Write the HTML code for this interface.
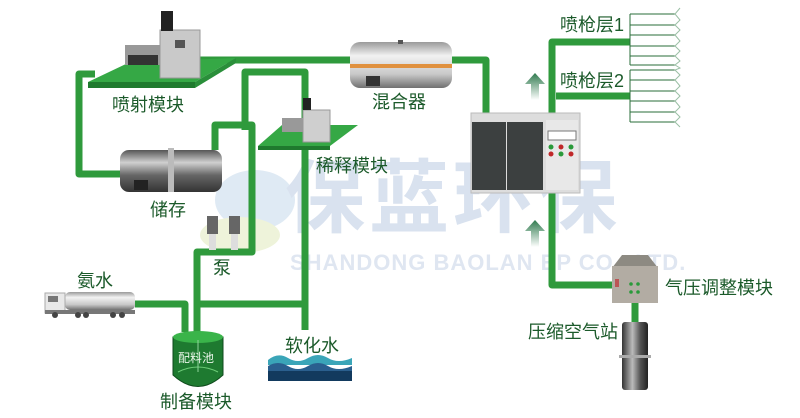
<!DOCTYPE html>
<html><head><meta charset="utf-8"><style>
html,body{margin:0;padding:0;background:#fff;}
svg{display:block;}
text{font-family:"Liberation Sans","Noto Sans CJK SC",sans-serif;}
</style></head><body>
<svg width="800" height="418" viewBox="0 0 800 418" xmlns="http://www.w3.org/2000/svg">
<defs>
<linearGradient id="silver" x1="0" y1="0" x2="0" y2="1">
<stop offset="0" stop-color="#9a9a9a"/><stop offset="0.3" stop-color="#f2f2f2"/><stop offset="0.7" stop-color="#c8c8c8"/><stop offset="1" stop-color="#707070"/></linearGradient>
<linearGradient id="dark" x1="0" y1="0" x2="0" y2="1">
<stop offset="0" stop-color="#555"/><stop offset="0.3" stop-color="#d0d0d0"/><stop offset="0.6" stop-color="#666"/><stop offset="1" stop-color="#333"/></linearGradient>
<linearGradient id="darkv" x1="0" y1="0" x2="1" y2="0">
<stop offset="0" stop-color="#333"/><stop offset="0.4" stop-color="#bbb"/><stop offset="0.7" stop-color="#555"/><stop offset="1" stop-color="#222"/></linearGradient>
<linearGradient id="arr" x1="0" y1="0" x2="0" y2="1">
<stop offset="0" stop-color="#2f7a4e"/><stop offset="1" stop-color="#ffffff"/></linearGradient>
</defs>
<!-- watermark -->
<ellipse cx="255" cy="200" rx="40" ry="30" fill="#dfeaf4"/>
<ellipse cx="240" cy="235" rx="40" ry="18" fill="#eef3da"/>
<text x="285" y="226" font-size="80" font-weight="bold" fill="#d9e2ef" letter-spacing="4">保蓝环保</text>
<text x="290" y="270" font-size="22" font-weight="bold" fill="#dfe6f1" letter-spacing="1">SHANDONG BAOLAN EP CO., LTD.</text>
<!-- pipes -->
<g fill="none" stroke="#2f9a3c" stroke-width="7" stroke-linejoin="round">
<path d="M195,60 H352"/>
<path d="M450,60 H486 V115"/>
<path d="M95,74 H79 V174 H122"/>
<path d="M245,130 V72 H305 V128"/>
<path d="M215,150 V125 H252 V252 H197 V332"/>
<path d="M305,140 V330"/>
<path d="M197,304 H305"/>
<path d="M135,304 H185 V332"/>
<path d="M552,190 V285 H614"/>
<path d="M552,115 V42 H630"/>
<path d="M556,96 H630"/>
<path d="M635,302 V322"/>
</g>
<!-- spray guns -->
<g stroke="#2a6e3a" stroke-width="1" fill="none">
<path d="M630,14 V65 M630,70 V122"/>
<path d="M630,14 H675 M630,25 H675 M630,35 H675 M630,46 H675 M630,56 H675 M630,65 H675 M630,70 H675 M630,80 H675 M630,91 H675 M630,101 H675 M630,112 H675 M630,122 H675"/>
<path d="M680,8 L675,14 L680,20 L675,25 L680,30 L675,35 L680,41 L675,46 L680,51 L675,56 L680,61 L675,65 L680,68 L675,70 L680,75 L675,80 L680,86 L675,91 L680,96 L675,101 L680,107 L675,112 L680,117 L675,122 L680,127" stroke="#9bbfa5"/>
</g>
<!-- injection platform -->
<polygon points="88,82 130,62 236,58 195,82" fill="#35a845"/>
<polygon points="88,82 195,82 195,88 88,88" fill="#1f7a2e"/>
<polygon points="195,82 236,58 236,63 195,88" fill="#2a8f3a"/>
<rect x="125" y="45" width="35" height="20" fill="#999"/>
<rect x="128" y="55" width="30" height="10" fill="#333"/>
<rect x="160" y="30" width="40" height="48" fill="#c9c9c9" stroke="#999"/>
<rect x="175" y="40" width="10" height="8" fill="#555"/>
<rect x="161" y="11" width="12" height="20" fill="#222"/>
<!-- mixer -->
<rect x="350" y="42" width="102" height="46" rx="10" fill="url(#silver)"/>
<rect x="350" y="64" width="102" height="4" fill="#e0913f"/>
<rect x="366" y="76" width="14" height="10" fill="#333"/>
<rect x="398" y="40" width="5" height="4" fill="#555"/>
<!-- dilution platform -->
<polygon points="258,146 282,125 358,125 330,146" fill="#35a845"/>
<polygon points="258,146 330,146 330,150 258,150" fill="#1f7a2e"/>
<rect x="282" y="118" width="22" height="14" fill="#999"/>
<rect x="303" y="110" width="27" height="32" fill="#cfcfcf" stroke="#999"/>
<rect x="303" y="98" width="8" height="12" fill="#222"/>
<!-- storage -->
<rect x="120" y="150" width="102" height="42" rx="9" fill="url(#dark)"/>
<rect x="168" y="148" width="6" height="44" fill="#bbb"/>
<rect x="134" y="180" width="14" height="10" fill="#222"/>
<!-- pumps -->
<rect x="207" y="216" width="11" height="18" fill="#666"/><rect x="209" y="234" width="7" height="16" fill="#ddd"/>
<rect x="229" y="216" width="11" height="18" fill="#666"/><rect x="231" y="234" width="7" height="16" fill="#ddd"/>
<!-- big cabinet -->
<rect x="471" y="113" width="109" height="80" fill="#ddd" stroke="#bbb"/>
<rect x="472" y="122" width="34" height="68" fill="#3c4040"/>
<rect x="507" y="122" width="36" height="68" fill="#3c4040"/>
<rect x="546" y="120" width="32" height="70" fill="#e8e8e8"/>
<rect x="548" y="131" width="28" height="9" fill="#fff" stroke="#777"/>
<g fill="#2a9a3a"><circle cx="551" cy="147" r="2.5"/><circle cx="571" cy="147" r="2.5"/><circle cx="561" cy="154" r="2.5"/></g>
<g fill="#c0282a"><circle cx="561" cy="147" r="2.5"/><circle cx="551" cy="154" r="2.5"/><circle cx="571" cy="154" r="2.5"/></g>
<!-- arrows -->
<polygon points="535,73 545,84 539,84 539,100 531,100 531,84 525,84" fill="url(#arr)"/>
<polygon points="535,220 545,231 539,231 539,247 531,247 531,231 525,231" fill="url(#arr)"/>
<!-- air box -->
<polygon points="612,268 622,255 648,255 658,268" fill="#8d8a82"/>
<rect x="612" y="266" width="46" height="37" fill="#b2aca3"/>
<g fill="#2a9a3a"><circle cx="631" cy="284" r="1.8"/><circle cx="638" cy="284" r="1.8"/><circle cx="631" cy="292" r="1.8"/><circle cx="638" cy="292" r="1.8"/></g>
<rect x="615" y="279" width="4" height="8" fill="#b55"/>
<!-- compressor -->
<rect x="622" y="322" width="26" height="68" rx="3" fill="url(#darkv)"/>
<rect x="619" y="355" width="32" height="3" fill="#aaa"/>
<!-- truck -->
<rect x="65" y="292" width="70" height="18" rx="5" fill="url(#silver)"/>
<rect x="45" y="293" width="20" height="20" fill="#e8e8e8" stroke="#aaa"/>
<rect x="48" y="296" width="10" height="6" fill="#777"/>
<rect x="45" y="310" width="90" height="4" fill="#777"/>
<g fill="#444"><circle cx="55" cy="315" r="3"/><circle cx="78" cy="315" r="3"/><circle cx="86" cy="315" r="3"/><circle cx="113" cy="315" r="3"/><circle cx="122" cy="315" r="3"/></g>
<!-- tank -->
<path d="M173,337 V375 Q198,398 223,375 V337 Z" fill="#1e7a30" stroke="#0f4a1c"/>
<ellipse cx="198" cy="337" rx="25" ry="6" fill="#3ab44a"/>
<path d="M178,372 Q198,362 218,372" stroke="#6fcf7a" fill="none"/>
<line x1="198" y1="340" x2="198" y2="372" stroke="#8fd49a"/>
<!-- water -->
<path d="M268,360 Q278,352 288,358 T308,358 T328,358 T352,358 V365 H268 Z" fill="#3aa5b8"/>
<path d="M268,366 Q278,360 288,366 T308,366 T328,366 T352,366 V372 H268 Z" fill="#2a5f8e"/>
<rect x="268" y="371" width="84" height="10" fill="#123a5e"/>
<!-- labels -->
<g fill="#1b5a2a" font-size="18">
<text x="112" y="111">喷射模块</text>
<text x="372" y="108">混合器</text>
<text x="316" y="172">稀释模块</text>
<text x="150" y="216">储存</text>
<text x="213" y="274">泵</text>
<text x="77" y="287">氨水</text>
<text x="160" y="408">制备模块</text>
<text x="285" y="352">软化水</text>
<text x="560" y="31">喷枪层1</text>
<text x="560" y="87">喷枪层2</text>
<text x="665" y="294">气压调整模块</text>
<text x="528" y="338">压缩空气站</text>
</g>
<text x="178" y="362" font-size="12" fill="#e8f5e8">配料池</text>
</svg>
</body></html>
